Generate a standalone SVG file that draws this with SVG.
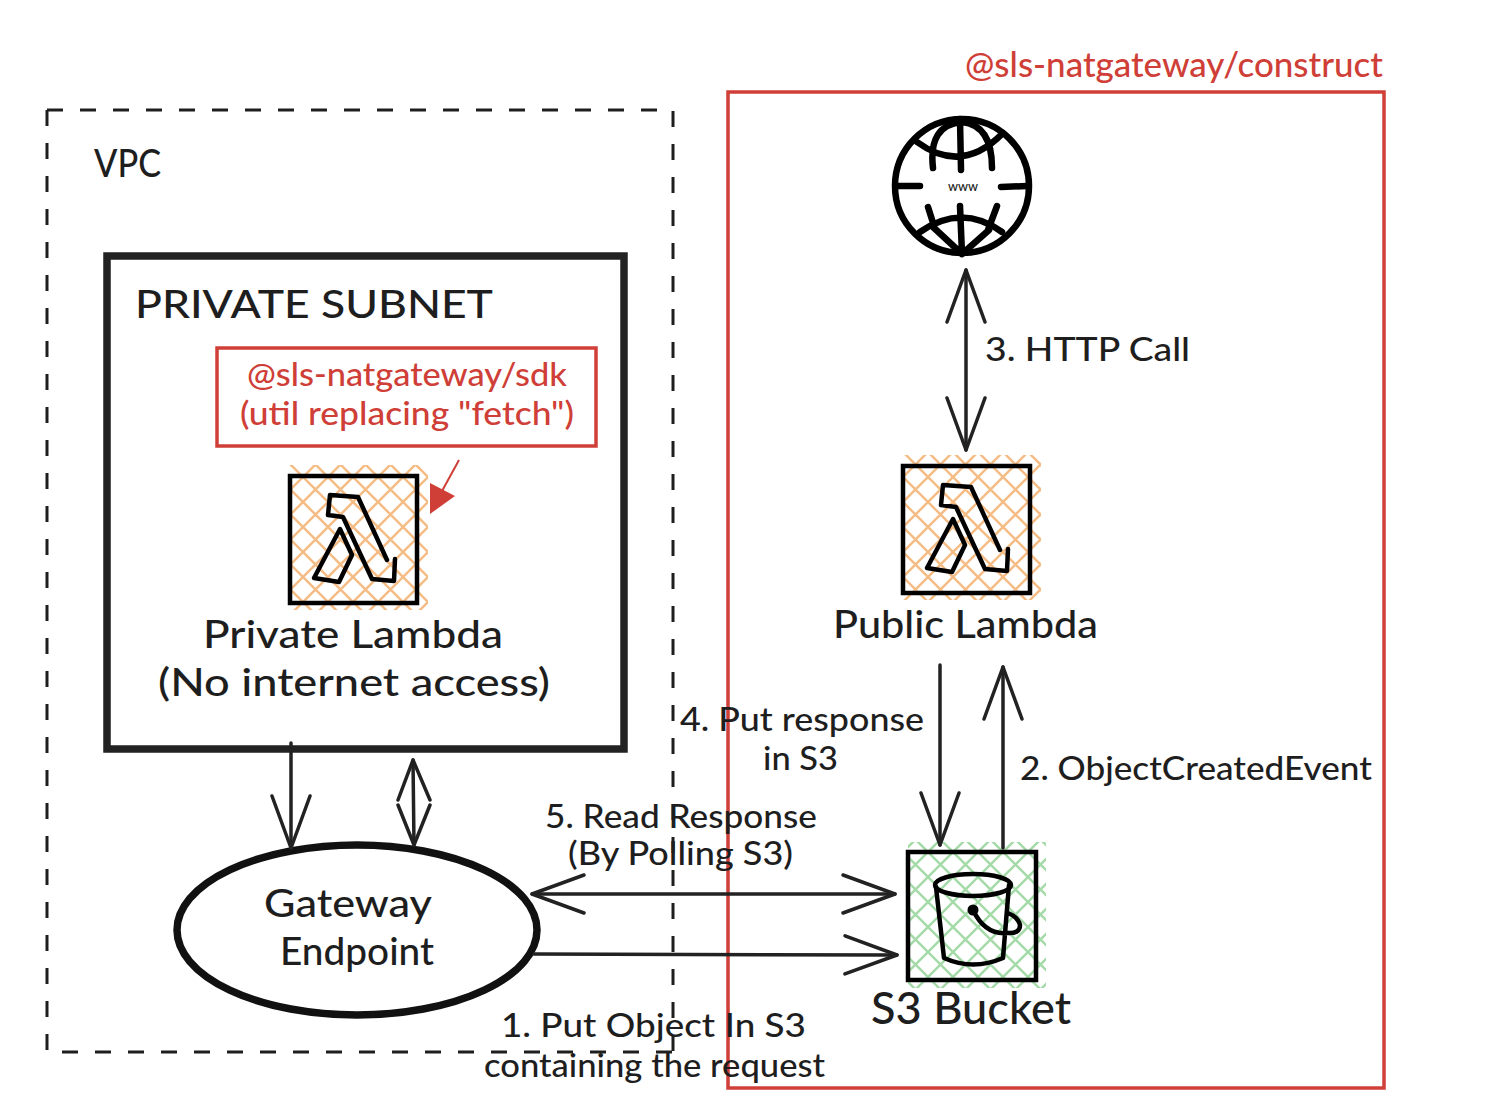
<svg xmlns="http://www.w3.org/2000/svg" width="1502" height="1112" viewBox="0 0 1502 1112">
<style>
text{font-family:"Lato","Open Sans","Liberation Sans",sans-serif;fill:#1e1e1e;font-weight:500}
.red{fill:#cf3f38}
.frame{fill:none;stroke:#cf3f38;stroke-width:3.5}
.big{font-size:38px}.mid{font-size:34px}.sm{font-size:33px}
.ic{fill:none;stroke:#000;stroke-width:4.5;stroke-linejoin:round;stroke-linecap:round}
.bx{stroke:#000;stroke-width:4.5}
.con{fill:none;stroke:#222;stroke-width:3.5;stroke-linecap:round;stroke-linejoin:round}
.gl{fill:none;stroke:#000;stroke-width:6.5;stroke-linecap:round;stroke-linejoin:round}
</style>
<defs>
<pattern id="ho" x="3" y="2" width="25" height="25" patternUnits="userSpaceOnUse"><path d="M-5,-5 L30,30 M-5,30 L30,-5" stroke="#f5bd85" stroke-width="2.5" fill="none"/></pattern>
<pattern id="hg" x="3" y="2" width="25" height="25" patternUnits="userSpaceOnUse"><path d="M-5,-5 L30,30 M-5,30 L30,-5" stroke="#a5dba8" stroke-width="2.5" fill="none"/></pattern>
<marker id="v" viewBox="-54 -22 58 44" refX="0" refY="0" markerWidth="58" markerHeight="44" markerUnits="userSpaceOnUse" orient="auto-start-reverse"><path d="M-52,-19 L0,0 L-52,19" fill="none" stroke="#222" stroke-width="3.5" stroke-linecap="round" stroke-linejoin="round"/></marker>
<path id="lam" d="M395,559 L394,581 L372,579 L343,517 L328,515 L330,495 L358,497 L387,560 M340,529 L352,555 L339,582 L314,578 Z"/>
</defs>

<g id="vpc"><path d="M47,110 H673 V1052 M47,110 V1052 H673" fill="none" stroke="#1e1e1e" stroke-width="3" stroke-dasharray="16 17"/><text class="big" x="94" y="177" textLength="67" lengthAdjust="spacingAndGlyphs">VPC</text></g>

<g id="construct"><rect class="frame" x="728" y="92" width="656" height="996"/><text class="mid red" x="965" y="77" textLength="418" lengthAdjust="spacingAndGlyphs">@sls-natgateway/construct</text></g>

<g id="private-subnet"><rect x="107" y="256" width="517" height="493" fill="none" stroke="#222" stroke-width="7.5"/><text class="big" x="135" y="318" textLength="358" lengthAdjust="spacingAndGlyphs">PRIVATE SUBNET</text></g>

<g id="sdk"><rect class="frame" x="217" y="348" width="379" height="98"/>
<text class="sm red" x="247" y="386" textLength="320" lengthAdjust="spacingAndGlyphs">@sls-natgateway/sdk</text>
<text class="sm red" x="240" y="425" textLength="334" lengthAdjust="spacingAndGlyphs">(util replacing "fetch")</text></g>

<g id="private-lambda">
<rect x="290" y="465" width="138" height="145" fill="url(#ho)"/>
<rect class="bx" x="290" y="476" width="127" height="127" fill="none"/>
<use href="#lam" class="ic"/>
<text class="big" x="203" y="648" textLength="300" lengthAdjust="spacingAndGlyphs">Private Lambda</text>
<text class="big" x="158" y="696" textLength="392" lengthAdjust="spacingAndGlyphs">(No internet access)</text>
</g>

<g id="sdk-pointer"><path d="M459,460 L436,502" fill="none" stroke="#cf3f38" stroke-width="2"/><path d="M430,483 L455,496 L430,514 Z" fill="#cf3f38"/></g>

<g id="gateway-endpoint"><ellipse cx="357" cy="930" rx="180" ry="85" fill="none" stroke="#111" stroke-width="7.5"/>
<text class="big" x="264" y="917" textLength="168" lengthAdjust="spacingAndGlyphs">Gateway</text>
<text class="big" x="280" y="965" textLength="154" lengthAdjust="spacingAndGlyphs">Endpoint</text></g>

<g id="internet">
<circle cx="962" cy="186" r="67" class="gl"/>
<path class="gl" d="M917,142 Q962,175 1003,133 M933,168 Q928,125 962,122 Q992,125 992,168 M960,119 L961,170 M897,186 L920,186 M1001,187 L1027,186 M928,207 L934,226 M960,206 L962,254 M997,206 L988,230 M920,232 Q962,203 1002,232 M933,227 L962,254 M989,230 L962,254"/>
<text x="948" y="191" font-size="13" textLength="30" lengthAdjust="spacingAndGlyphs">www</text>
</g>

<g id="public-lambda">
<rect x="903" y="455" width="138" height="145" fill="url(#ho)"/>
<rect class="bx" x="903" y="466" width="127" height="127" fill="none"/>
<use href="#lam" x="613" y="-10" class="ic"/>
<text class="big" x="833" y="638" textLength="265" lengthAdjust="spacingAndGlyphs">Public Lambda</text>
</g>

<g id="s3-bucket">
<rect x="908" y="842" width="138" height="146" fill="url(#hg)"/>
<rect class="bx" x="908" y="852" width="128" height="128" fill="none"/>
<ellipse class="ic" cx="973" cy="885" rx="38" ry="11"/>
<path class="ic" d="M936,887 L944,958 Q973,971 1003,958 L1009,885 M973,910 Q985,935 1007,933 Q1020,934 1020,925 Q1018,917 1008,913"/>
<circle cx="973" cy="910" r="5.5" fill="#000"/>
<text x="871" y="1024" font-size="44" textLength="200" lengthAdjust="spacingAndGlyphs">S3 Bucket</text>
</g>

<g id="connectors" class="con">
<path d="M291,743 L291,848" marker-end="url(#v)"/>
<path d="M413,760 L414,845"/>
<path d="M398,800 L413,760 L430,800 M398,805 L414,845 L430,805"/>
<path d="M966,270 L966,450" marker-start="url(#v)" marker-end="url(#v)"/>
<path d="M940,665 L940,845" marker-end="url(#v)"/>
<path d="M1003,848 L1003,667" marker-end="url(#v)"/>
<path d="M532,894 L895,894" marker-start="url(#v)" marker-end="url(#v)"/>
<path d="M534,954 L897,955" marker-end="url(#v)"/>
</g>

<g id="labels">
<text class="sm" x="985" y="361" textLength="205" lengthAdjust="spacingAndGlyphs">3. HTTP Call</text>
<text class="sm" x="680" y="731" textLength="244" lengthAdjust="spacingAndGlyphs">4. Put response</text>
<text class="sm" x="763" y="770" textLength="75" lengthAdjust="spacingAndGlyphs">in S3</text>
<text class="sm" x="1020" y="780" textLength="352" lengthAdjust="spacingAndGlyphs">2. ObjectCreatedEvent</text>
<text class="sm" x="545" y="828" textLength="272" lengthAdjust="spacingAndGlyphs">5. Read Response</text>
<text class="sm" x="568" y="865" textLength="225" lengthAdjust="spacingAndGlyphs">(By Polling S3)</text>
<text class="sm" x="501" y="1037" textLength="305" lengthAdjust="spacingAndGlyphs">1. Put Object In S3</text>
<text class="sm" x="484" y="1077" textLength="341" lengthAdjust="spacingAndGlyphs">containing the request</text>
</g>
</svg>
